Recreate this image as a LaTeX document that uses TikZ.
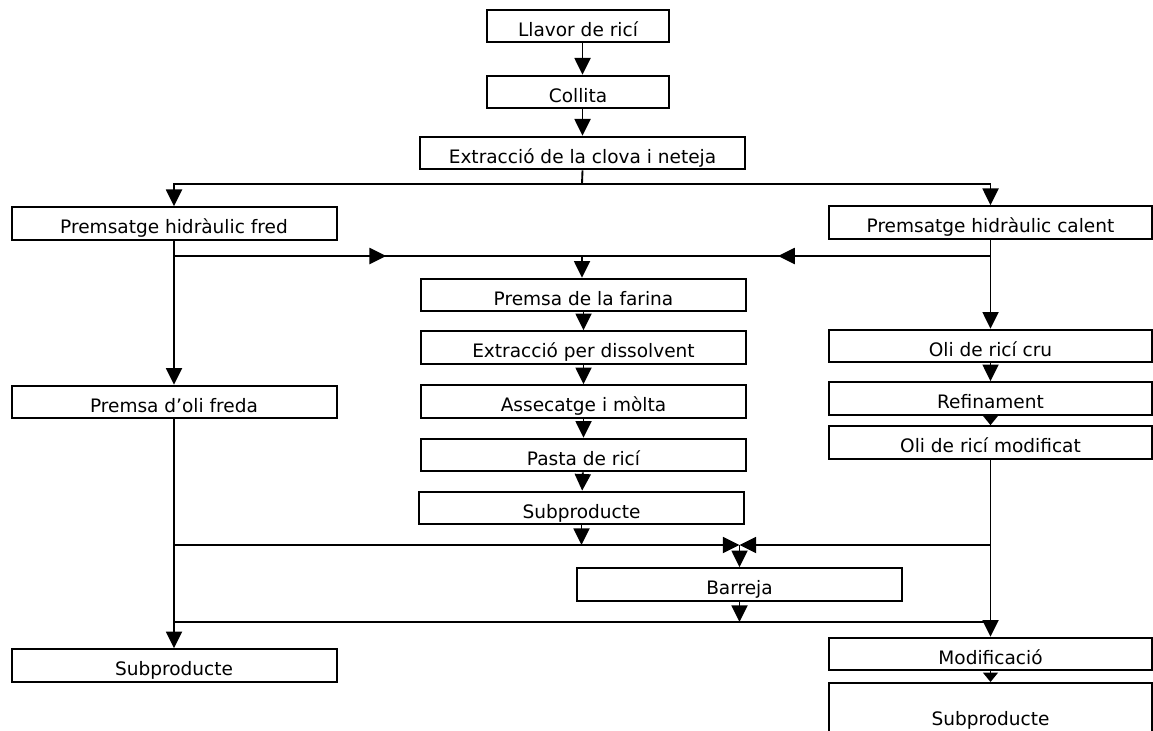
\documentclass[tikz,border=0pt]{standalone}
\usepackage{fontspec}
\setmainfont{DejaVu Sans}
\usepackage{tikz}
\usetikzlibrary{arrows.meta,decorations.markings}
\pgfdeclarelayer{edgelayer}
\pgfdeclarelayer{nodelayer}
\pgfsetlayers{edgelayer,nodelayer,main}
\tikzstyle{edge}=[draw=black, line width=1.4pt]
\tikzstyle{flow}=[draw=black, line width=1.4pt, -{Triangle[length=12.5pt,width=12pt]}]
\tikzstyle{shortflow}=[draw=black, line width=1.4pt, -{Triangle[length=7pt,width=11pt]}]
\tikzstyle{midflow}=[draw=black, line width=1.4pt, postaction={decorate},
  decoration={markings, mark=at position 0.52 with {\arrow{Triangle[length=12.5pt,width=12pt]}}}]
\tikzstyle{stage}=[rectangle, fill=white, draw=black, line width=1.5pt, inner sep=0pt,
  text height=20pt, text depth=4.5pt, minimum width=243.75pt,
  font=\fontsize{13.9}{16}\selectfont]
\tikzstyle{short}=[minimum width=136.5pt]
\tikzstyle{side}=[minimum width=242.25pt]

\begin{document}
\begin{tikzpicture}[x=0.75pt, y=-0.75pt]
			\useasboundingbox (0, 0) rectangle (1153, 731);
			\begin{pgfonlayer}{nodelayer}
				\node [style=stage, style=short] (0) at (578, 26) {Llavor de ricí};
				\node [style=stage, style=short] (1) at (578, 92) {Collita};
				\node [style=stage] (2) at (582.5, 153) {Extracció de la clova i neteja};
				\node [style=stage] (3) at (174, 223.5) {Premsatge hidràulic fred};
				\node [style=stage, style=side] (4) at (990.5, 222.5) {Premsatge hidràulic calent};
				\node [style=stage] (5) at (583.5, 295) {Premsa de la farina};
				\node [style=stage] (6) at (583.5, 347.5) {Extracció per dissolvent};
				\node [style=stage] (7) at (583.5, 401.5) {Assecatge i mòlta};
				\node [style=stage] (8) at (583.5, 455) {Pasta de ricí};
				\node [style=stage] (9) at (581.5, 508) {Subproducte};
				\node [style=stage] (10) at (174, 402) {Premsa d’oli freda};
				\node [style=stage, style=side] (11) at (990.5, 346) {Oli de ricí cru};
				\node [style=stage, style=side] (12) at (990.5, 398.5) {Refinament};
				\node [style=stage, style=side] (13) at (990.5, 442.5) {Oli de ricí modificat};
				\node [style=stage] (14) at (739.5, 584.5) {Barreja};
				\node [style=stage, style=side] (15) at (990.5, 654) {Modificació};
				\node [style=stage] (16) at (174, 665.5) {Subproducte};
				\node [style=stage, style=side, text height=31.5pt, text depth=6pt] (17) at (990.5, 708) {Subproducte};
			\end{pgfonlayer}
			\begin{pgfonlayer}{edgelayer}
				\coordinate (a) at (582, 184);
				\coordinate (b) at (582, 256);
				\coordinate (c) at (739.5, 545);
				\coordinate (d) at (739.5, 622);
				\draw [style=flow] (0.south -| 2) to (1.north -| 2);
				\draw [style=flow] (1.south -| 2) to (2.north);
				\draw [style=edge] (2.south) to (a);
				\draw [style=flow] (a) -| (3.north);
				\draw [style=flow] (a) -| (4.north);
				\draw [style=flow] (3.south) to (10.north);
				\draw [style=flow] (4.south) to (11.north);
				\draw [style=midflow] (3.south |- b) to (b);
				\draw [style=midflow] (4.south |- b) to (b);
				\draw [style=flow] (b) to (5.north -| b);
				\draw [style=flow] (5) to (6);
				\draw [style=flow] (6) to (7);
				\draw [style=flow] (7) to (8);
				\draw [style=flow] (8) to (9);
				\draw [style=flow] (11) to (12);
				\draw [style=flow] (9.south) to (9.south |- c);
				\draw [style=flow] (10.south |- c) to (c);
				\draw [style=flow] (13.south |- c) to (c);
				\draw [style=flow] (c) to (14.north);
				\draw [style=flow] (14.south) to (d);
				\draw [style=edge] (10.south |- d) to (13.south |- d);
				\draw [style=flow] (10.south) to (16.north);
				\draw [style=flow] (13.south) to (15.north);
			\end{pgfonlayer}
			% short gaps: tips drawn over the boxes
			\draw [style=shortflow] (12.south) to (13.north);
			\draw [style=shortflow] (15.south) to (17.north);
		\end{tikzpicture}
\end{document}
